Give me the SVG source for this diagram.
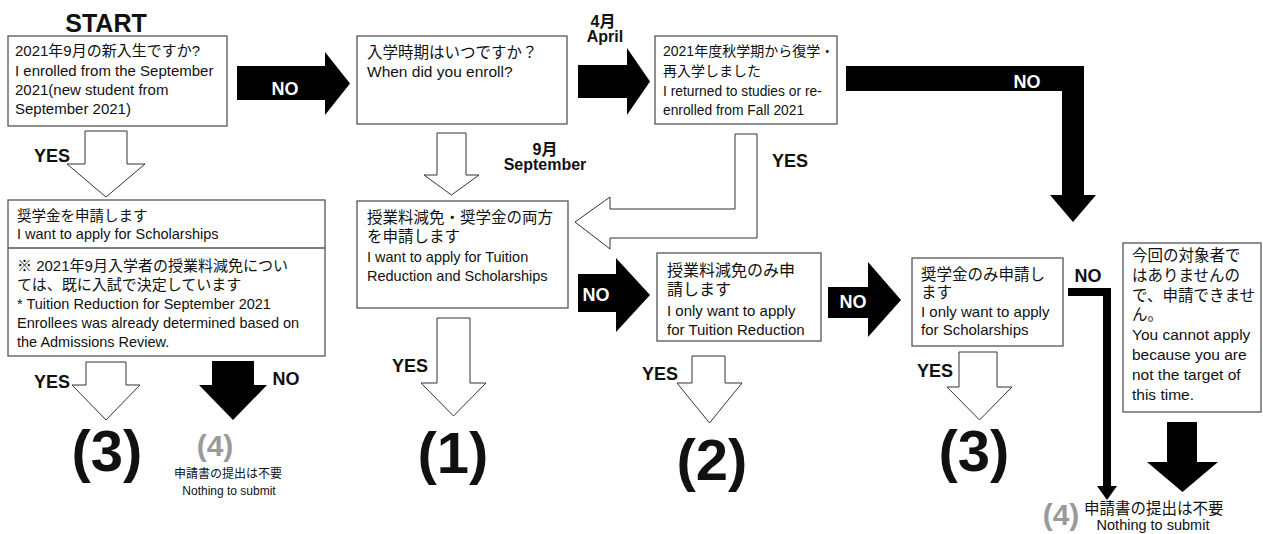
<svg xmlns="http://www.w3.org/2000/svg" width="1263" height="534" viewBox="0 0 1263 534">
<style>
text{font-family:"Liberation Sans","Noto Sans CJK JP",sans-serif;fill:#111}
.box{fill:#fff;stroke:#555;stroke-width:1.3}
.wa{fill:#fff;stroke:#333;stroke-width:1}
.ba{fill:#000;stroke:none}
.lbl{font-weight:bold;font-size:18px;text-anchor:middle}
.wl{fill:#fff}
.big{font-weight:bold;font-size:58px;text-anchor:middle}
.g4{font-weight:bold;font-size:30px;text-anchor:middle;fill:#9a9a9a}
.mon{font-weight:bold;font-size:16px;text-anchor:middle}
</style>
<rect width="1263" height="534" fill="#fff"/>
<g id="connectors">
<polygon class="ba" points="237,66 325,66 325,52 350,83.5 325,115 325,100 237,100"/>
<text class="lbl wl" x="285" y="95">NO</text>
<polygon class="ba" points="578,65 627,65 627,48 650,81.5 627,115 627,98 578,98"/>
<text class="mon" x="603" y="27">4月</text>
<text class="mon" x="605" y="42">April</text>
<polygon class="ba" points="846,66 1084,66 1084,195 1096,195 1073,222 1050,195 1062,195 1062,91 846,91"/>
<text class="lbl wl" x="1027" y="88">NO</text>
<polygon class="wa" points="85,131 127,131 127,164 145,164 106,197 67,164 85,164"/>
<text class="lbl" x="52" y="162">YES</text>
<polygon class="wa" points="437,133 466,133 466,175 479,175 451.5,195 424,175 437,175"/>
<text class="mon" x="545" y="155">9月</text>
<text class="mon" x="545" y="170">September</text>
<polygon class="wa" points="735,134 757,134 757,238 610,238 610,249 575,222 610,197 610,209 735,209"/>
<text class="lbl" x="790" y="167">YES</text>
<polygon class="wa" points="86,362 126,362 126,385 140,385 106,420 72,385 86,385"/>
<text class="lbl" x="52" y="388">YES</text>
<polygon class="ba" points="212,361 254,361 254,385 267,385 233,420 199,385 212,385"/>
<text class="lbl" x="286" y="385">NO</text>
<polygon class="wa" points="437,318 470,318 470,383 486,383 453.5,416 421,383 437,383"/>
<text class="lbl" x="410" y="372">YES</text>
<polygon class="ba" points="578,274 616,274 616,258 650,295 616,332 616,312 578,312"/>
<text class="lbl wl" x="596" y="301">NO</text>
<polygon class="wa" points="692,356 725,356 725,383 742,383 709.5,423 677,383 692,383"/>
<text class="lbl" x="660" y="380">YES</text>
<polygon class="ba" points="828,287 868,287 868,262 901,300 868,337 868,318 828,318"/>
<text class="lbl wl" x="853" y="308">NO</text>
<polygon class="wa" points="959,352 997,352 997,387 1012,387 979.5,420 947,387 959,387"/>
<text class="lbl" x="935" y="377">YES</text>
<polygon class="ba" points="1068,288 1111,288 1111,486 1117,486 1107,500 1097,486 1103,486 1103,296 1068,296"/>
<text class="lbl" x="1088" y="282">NO</text>
<polygon class="ba" points="1167,422 1197,422 1197,462 1218,462 1182.5,492 1147,462 1167,462"/>
</g>
<g id="start">
<text x="106" y="32" style="font-weight:bold;font-size:25px;text-anchor:middle">START</text>
</g>
<g id="q1">
<rect class="box" x="8" y="36" width="219" height="90"/>
<text x="15" y="56" font-size="15">2021年9月の新入生ですか?</text>
<text x="15" y="76" font-size="15">I enrolled from the September</text>
<text x="15" y="95" font-size="15">2021(new student from</text>
<text x="15" y="114" font-size="15">September 2021)</text>
</g>
<g id="q2">
<rect class="box" x="357" y="36" width="210" height="88"/>
<text x="367" y="58" font-size="15.5">入学時期はいつですか？</text>
<text x="367" y="77" font-size="15.5">When did you enroll?</text>
</g>
<g id="q3">
<rect class="box" x="655" y="36" width="182" height="88"/>
<text x="663" y="56" font-size="14">2021年度秋学期から復学・</text>
<text x="663" y="76" font-size="14">再入学しました</text>
<text x="663" y="96" font-size="13.8">I returned to studies or re-</text>
<text x="663" y="115" font-size="13.8">enrolled from Fall 2021</text>
</g>
<g id="scholar-sept">
<rect class="box" x="8" y="200" width="317" height="156"/>
<line x1="8" y1="248" x2="325" y2="248" stroke="#555" stroke-width="1.3"/>
<text x="17" y="221" font-size="14.5">奨学金を申請します</text>
<text x="17" y="239" font-size="14.5">I want to apply for Scholarships</text>
<text x="17" y="271" font-size="15">※ 2021年9月入学者の授業料減免につい</text>
<text x="17" y="290" font-size="15">ては、既に入試で決定しています</text>
<text x="17" y="309" font-size="14.5">* Tuition Reduction for September 2021</text>
<text x="17" y="328" font-size="14.5">Enrollees was already determined based on</text>
<text x="17" y="347" font-size="14.5">the Admissions Review.</text>
</g>
<g id="both">
<rect class="box" x="357" y="201" width="211" height="107"/>
<text x="367" y="223" font-size="15.5">授業料減免・奨学金の両方</text>
<text x="367" y="242" font-size="15.5">を申請します</text>
<text x="367" y="262" font-size="14.5">I want to apply for Tuition</text>
<text x="367" y="281" font-size="14.5">Reduction and Scholarships</text>
</g>
<g id="tuition-only">
<rect class="box" x="657" y="253" width="164" height="88"/>
<text x="667" y="276" font-size="16">授業料減免のみ申</text>
<text x="667" y="295" font-size="16">請します</text>
<text x="667" y="316" font-size="15">I only want to apply</text>
<text x="667" y="335" font-size="15">for Tuition Reduction</text>
</g>
<g id="scholar-only">
<rect class="box" x="912" y="258" width="151" height="88"/>
<text x="921" y="280" font-size="15.5">奨学金のみ申請し</text>
<text x="921" y="298" font-size="15.5">ます</text>
<text x="921" y="317" font-size="15">I only want to apply</text>
<text x="921" y="335" font-size="15">for Scholarships</text>
</g>
<g id="not-target">
<rect class="box" x="1123" y="243" width="138" height="169"/>
<text x="1132" y="261" font-size="15.5">今回の対象者で</text>
<text x="1132" y="281" font-size="15.5">はありませんの</text>
<text x="1132" y="301" font-size="15.5">で、申請できませ</text>
<text x="1132" y="320" font-size="15.5">ん。</text>
<text x="1132" y="340" font-size="15.5">You cannot apply</text>
<text x="1132" y="360" font-size="15.5">because you are</text>
<text x="1132" y="380" font-size="15.5">not the target of</text>
<text x="1132" y="400" font-size="15.5">this time.</text>
</g>
<g id="r3a"><text class="big" x="107" y="471">(3)</text></g>
<g id="r4a">
<text class="g4" x="215" y="456">(4)</text>
<text x="228" y="478" font-size="12" text-anchor="middle">申請書の提出は不要</text>
<text x="229" y="495" font-size="12" text-anchor="middle">Nothing to submit</text>
</g>
<g id="r1"><text class="big" x="453" y="473">(1)</text></g>
<g id="r2"><text class="big" x="712" y="480">(2)</text></g>
<g id="r3b"><text class="big" x="974" y="471">(3)</text></g>
<g id="r4b">
<text class="g4" x="1061" y="525">(4)</text>
<text x="1084" y="514" font-size="15.5">申請書の提出は不要</text>
<text x="1153" y="530" font-size="14.5" text-anchor="middle">Nothing to submit</text>
</g>
</svg>
